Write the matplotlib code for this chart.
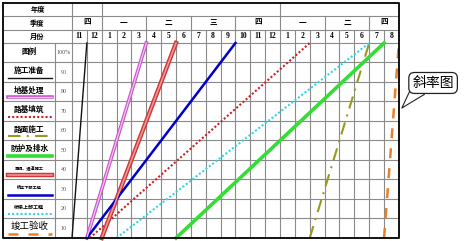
import matplotlib
matplotlib.use("Agg")
import matplotlib.pyplot as plt

# ---- datos ----
meses = ["11", "12", "1", "2", "3", "4", "5", "6", "7", "8", "9", "10",
         "11", "12", "1", "2", "3", "4", "5", "6", "7", "8"]
trimestres = ["四", "一", "二", "三", "四", "一", "二", "四"]
trim_meses = [2, 3, 3, 3, 3, 3, 3, 2]
anio_meses = [2, 12, 8]
porcentajes = ["100%", "90", "80", "70", "60", "50", "40", "30", "20", "10"]

tareas = ["施工准备", "地基处理", "路基填筑", "路面施工", "防护及排水",
          "涵洞、通道施工", "桥梁下部工程", "桥梁上部工程", "竣工验收"]
inicio = [0, 1, 1.2, 16, 7, 2, 1, 3, 21]   # en meses desde noviembre
fin = [1, 5, 16, 20, 21, 7, 11, 20, 22]

# estilos por tarea (color, ancho, estilo, color interior o None)
estilos = [
    ("#111111", 1.0, "-", None),
    ("#CC55CC", 2.6, "-", "#F2C4F2"),
    ("#CC2222", 1.5, (0, (1, 1)), None),
    ("#999922", 1.5, (0, (6, 3, 1, 3)), None),
    ("#33DD33", 2.6, "-", None),
    ("#D03838", 3.2, "-", "#EE9A9A"),
    ("#0000CC", 1.8, "-", None),
    ("#33D6E6", 1.5, (0, (1, 1)), None),
    ("#E8802A", 1.8, (0, (4, 4)), None),
]
tam_texto = [5.5, 5.5, 5.5, 5.5, 5.5, 3.0, 3.0, 3.6, 6.8]

# ---- geometría de la tabla (en unidades de meses / %) ----
x_izq, x_ley, x_pct, x_der = -4.64, -1.14, 0.0, len(meses)
y_mes, y_trim, y_anio, y_top = 100.0, 106.9, 113.8, 120.7
GRIS = "#8a8a8a"

fig = plt.figure(figsize=(4.69, 2.41), dpi=100)
ax = fig.add_axes([0, 0, 1, 1])
ax.set_xlim(-4.845, 26.716)
ax.set_ylim(-1.54, 122.05)
ax.axis("off")

fuente_cab = ["Liberation Serif", "Noto Sans CJK SC"]
fuente_cjk = ["Noto Sans CJK SC", "DejaVu Sans"]

# lineas horizontales
for y in range(10, 101, 10):
    ax.plot([x_izq, x_der], [y, y], color=GRIS, lw=0.8, zorder=1)
for y in (y_trim, y_anio):
    ax.plot([x_izq, x_der], [y, y], color=GRIS, lw=0.8, zorder=1)

# lineas verticales de meses
for i in range(1, len(meses)):
    ax.plot([i, i], [0, y_trim], color=GRIS, lw=0.8, zorder=1)
ax.plot([x_ley, x_ley], [0, 100], color=GRIS, lw=0.8, zorder=1)
ax.plot([x_pct, x_pct], [0, y_top], color=GRIS, lw=0.8, zorder=1)

# trimestres
pos = 0
for t, n in zip(trimestres, trim_meses):
    ax.text(pos + n / 2, (y_trim + y_anio) / 2, t, ha="center", va="center",
            fontsize=5.5, fontweight="bold", family=fuente_cab)
    pos += n
    if pos < len(meses):
        ax.plot([pos, pos], [y_trim, y_anio], color=GRIS, lw=0.8, zorder=1)

# años (sin etiqueta)
pos = 0
for n in anio_meses[:-1]:
    pos += n
    ax.plot([pos, pos], [y_anio, y_top], color=GRIS, lw=0.8, zorder=1)

# meses
for i, m in enumerate(meses):
    ax.text(i + 0.5, (y_mes + y_trim) / 2, m, ha="center", va="center",
            fontsize=5.5, fontweight="bold", family=fuente_cab)

# cabeceras izquierda
for txt, y in (("年度", (y_anio + y_top) / 2), ("季度", (y_trim + y_anio) / 2),
               ("月份", (y_mes + y_trim) / 2)):
    ax.text((x_izq + x_pct) / 2, y, txt, ha="center", va="center",
            fontsize=5.2, fontweight="bold", family=fuente_cjk)

# porcentajes
for k, p in enumerate(porcentajes):
    ax.text((x_ley + x_pct) / 2, 95 - 10 * k, p, ha="center", va="center",
            fontsize=4.3, color="#555555", family=fuente_cab)

ax.text((x_izq + x_ley) / 2, 95.5, "图例", ha="center", va="center",
        fontsize=5.5, fontweight="bold", family=fuente_cjk)

# leyenda y lineas de avance
for k, (nombre, x0, x1, (col, lw, ls, interior), fs) in enumerate(
        zip(tareas, inicio, fin, estilos, tam_texto)):
    base = 80 - 10 * k
    peso = "normal" if k == len(tareas) - 1 else "bold"
    ax.text((x_izq + x_ley) / 2, base + 5.8, nombre, ha="center", va="center",
            fontsize=fs, fontweight=peso, family=fuente_cjk)
    lx = [-4.3, -1.35]
    ax.plot(lx, [base + 2.2] * 2, color=col, lw=lw, ls=ls, zorder=3)
    ax.plot([x0, x1], [0, 100], color=col, lw=lw, ls=ls, zorder=3)
    if interior:
        ax.plot(lx, [base + 2.2] * 2, color=interior, lw=lw * 0.35, zorder=4)
        ax.plot([x0, x1], [0, 100], color=interior, lw=lw * 0.35, zorder=4)

# borde exterior
ax.plot([x_izq, x_der, x_der, x_izq, x_izq], [y_top, y_top, 0, 0, y_top],
        color="#111111", lw=1.4, zorder=5)

# llamada
ax.annotate("斜率图", xy=(22.07, 65.6), xytext=(24.3, 79.5), textcoords="data",
            ha="center", va="center", fontsize=10, family=fuente_cjk,
            bbox=dict(boxstyle="round,pad=0.25,rounding_size=0.4", fc="white",
                      ec="#222222", lw=0.9),
            arrowprops=dict(arrowstyle="wedge,tail_width=1.1,shrink_factor=0.5",
                            fc="white", ec="#222222", lw=0.8,
                            relpos=(0.2, 0.2), patchA=None))

fig.savefig("out.png", dpi=100)
